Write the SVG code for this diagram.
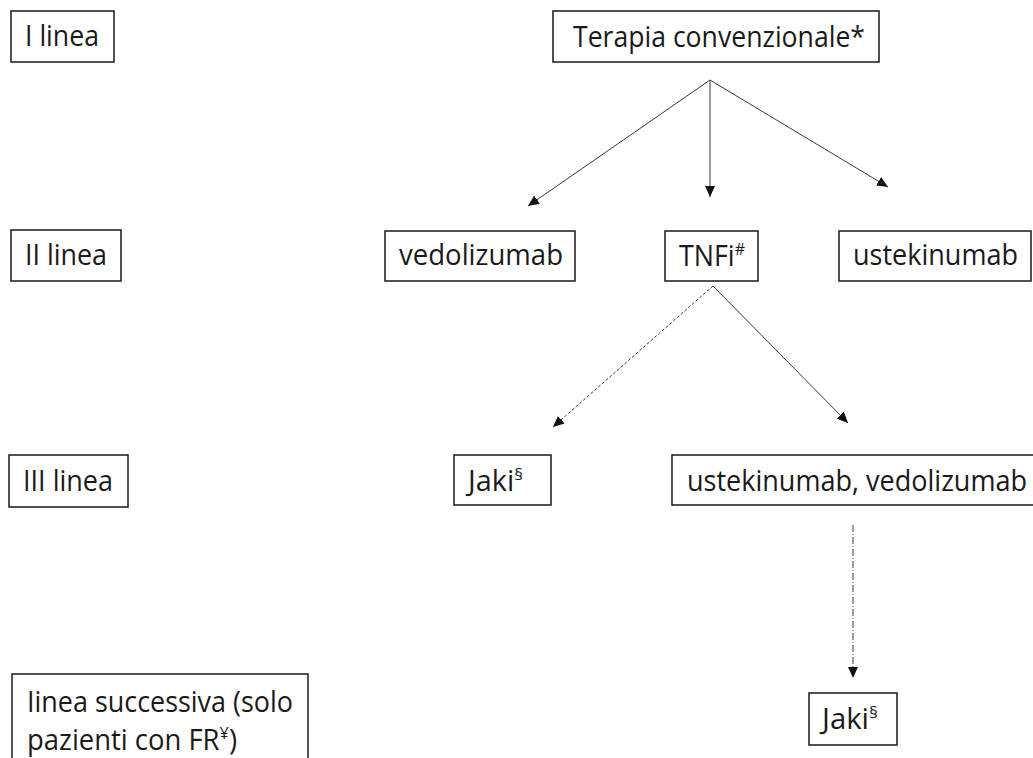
<svg xmlns="http://www.w3.org/2000/svg" width="1033" height="758" viewBox="0 0 1033 758">
<defs>
<style>
.box{fill:#fff;stroke:#262626;stroke-width:1.6}
.t{font-family:"Open Sans","Noto Sans","Liberation Sans",sans-serif;font-size:28.5px;fill:#1a1a1a}
.sup{font-size:17px}
.ln{fill:none;stroke:#3a3a3a;stroke-width:1}
.dash{stroke-dasharray:3 2}
.dashdot{stroke-dasharray:7 2 1 2}
</style>
<marker id="ah" markerWidth="12" markerHeight="10" refX="11" refY="5" orient="auto" markerUnits="userSpaceOnUse">
<path d="M0,0 L11,5 L0,10 Z" fill="#111"/>
</marker>
</defs>
<rect width="1033" height="758" fill="#fff"/>

<g id="I-linea"><rect class="box" x="11" y="11" width="103" height="51"/><text class="t" x="25" y="46" textLength="74" lengthAdjust="spacingAndGlyphs">I linea</text></g>
<g id="terapia"><rect class="box" x="553" y="11" width="326" height="51"/><text class="t" x="573" y="47" textLength="292" lengthAdjust="spacingAndGlyphs">Terapia convenzionale*</text></g>

<g id="II-linea"><rect class="box" x="11" y="230" width="110" height="51"/><text class="t" x="25" y="265" textLength="82" lengthAdjust="spacingAndGlyphs">II linea</text></g>
<g id="vedolizumab"><rect class="box" x="385" y="231" width="190" height="50"/><text class="t" x="399" y="265" textLength="164" lengthAdjust="spacingAndGlyphs">vedolizumab</text></g>
<g id="tnfi"><rect class="box" x="665" y="231" width="93" height="50"/><text class="t" x="679" y="266" textLength="66" lengthAdjust="spacingAndGlyphs">TNFi<tspan class="sup" dy="-11">#</tspan></text></g>
<g id="ustekinumab"><rect class="box" x="839" y="231" width="192" height="50"/><text class="t" x="853" y="265" textLength="165" lengthAdjust="spacingAndGlyphs">ustekinumab</text></g>

<g id="III-linea"><rect class="box" x="9" y="455" width="119" height="52"/><text class="t" x="23" y="491" textLength="90" lengthAdjust="spacingAndGlyphs">III linea</text></g>
<g id="jaki1"><rect class="box" x="454" y="455" width="97" height="50"/><text class="t" x="468" y="491" textLength="55" lengthAdjust="spacingAndGlyphs">Jaki<tspan class="sup" dy="-11">§</tspan></text></g>
<g id="uste-vedo"><rect class="box" x="672" y="455" width="380" height="50"/><text class="t" x="687" y="491" textLength="340" lengthAdjust="spacingAndGlyphs">ustekinumab, vedolizumab</text></g>

<g id="linea-successiva"><rect class="box" x="12" y="674" width="296" height="100"/><text class="t" x="27" y="712" textLength="266" lengthAdjust="spacingAndGlyphs">Iinea successiva (solo</text><text class="t" x="27" y="750" textLength="210" lengthAdjust="spacingAndGlyphs">pazienti con FR<tspan class="sup" dy="-11">¥</tspan><tspan dy="11">)</tspan></text></g>
<g id="jaki2"><rect class="box" x="809" y="693" width="88" height="52"/><text class="t" x="822" y="729" textLength="56" lengthAdjust="spacingAndGlyphs">Jaki<tspan class="sup" dy="-11">§</tspan></text></g>

<g id="connectors">
<line class="ln" x1="710" y1="80" x2="528" y2="206" marker-end="url(#ah)"/>
<line class="ln" x1="710" y1="80" x2="710" y2="197" marker-end="url(#ah)"/>
<line class="ln" x1="710" y1="80" x2="888" y2="187" marker-end="url(#ah)"/>
<line class="ln dash" x1="713" y1="286" x2="553" y2="427" marker-end="url(#ah)"/>
<line class="ln" x1="713" y1="286" x2="848" y2="423" marker-end="url(#ah)"/>
<line class="ln dashdot" x1="853" y1="525" x2="853" y2="678" marker-end="url(#ah)"/>
</g>
</svg>
